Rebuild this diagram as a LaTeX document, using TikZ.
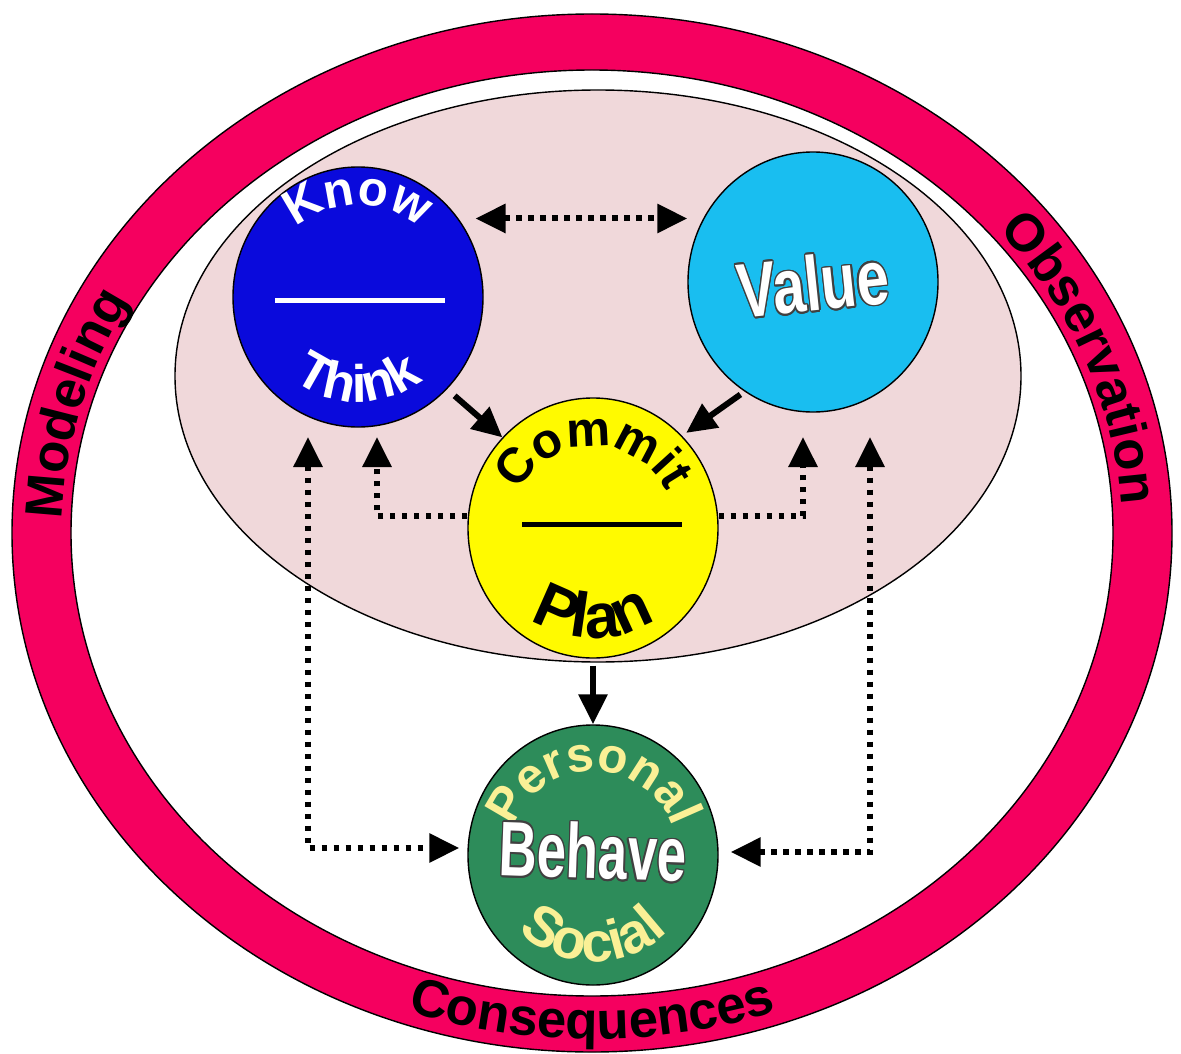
\documentclass[tikz,border=0pt]{standalone}
\usepackage{fontspec}
\setsansfont{Liberation Sans}
\usepackage[copies]{contour}
\usetikzlibrary{shapes.geometric}
\usetikzlibrary{arrows.meta}
\usetikzlibrary{decorations.text}

\definecolor{ringred}{RGB}{245,0,95}
\definecolor{hazepink}{RGB}{240,216,218}
\definecolor{knowblue}{RGB}{10,10,220}
\definecolor{valuecyan}{RGB}{25,190,240}
\definecolor{commityellow}{RGB}{255,250,0}
\definecolor{behavegreen}{RGB}{45,140,90}
\definecolor{paleyellow}{RGB}{250,240,150}

\newcommand{\ringfont}{\sffamily\bfseries\fontsize{15}{15}\selectfont}
\newcommand{\circfont}{\sffamily\bfseries\fontsize{14}{14}\selectfont}
\newcommand{\thinkfont}{\sffamily\bfseries\fontsize{15}{15}\selectfont}
\newcommand{\commitfont}{\sffamily\bfseries\fontsize{14}{14}\selectfont}
\newcommand{\planfont}{\sffamily\bfseries\fontsize{18}{18}\selectfont}
\newcommand{\socialfont}{\sffamily\bfseries\fontsize{16}{16}\selectfont}
\newcommand{\bigfont}{\sffamily\bfseries\fontsize{22}{22}\selectfont}
\contourlength{0.5pt}

\begin{document}
\begin{tikzpicture}[
    bubble/.style={ellipse, draw=black, thin, minimum width=25mm, minimum height=26mm, inner sep=0pt},
    dotline/.style={line width=0.6mm, dash pattern=on 0.55mm off 0.65mm},
    solidarrow/.style={line width=0.6mm, ->},
    arctext/.style={decorate, decoration={text along path, text align=center, text color=#1}},
    >={Triangle[length=3mm, width=2.8mm]},
]
    \useasboundingbox (0,0) rectangle (11.81,-10.54);
    \fill[white] (0,0) rectangle (11.81,-10.54);

    % Outer ring
    \coordinate (ringc) at (5.92,-5.33);
    \filldraw[fill=ringred, draw=black, thin, even odd rule] (ringc) ellipse [x radius=5.80, y radius=5.19] (ringc) ellipse [x radius=5.21, y radius=4.63];
    \path[arctext=black, decoration={text={|\ringfont|Modeling}}] (ringc) ++(201:5.30 and 4.72) arc[start angle=201, end angle=129, x radius=5.30, y radius=4.72];
    \path[arctext=black, decoration={text={|\ringfont|Observation}}] (ringc) ++(58:5.30 and 4.72) arc[start angle=58, end angle=-16, x radius=5.30, y radius=4.72];
    \path[arctext=black, decoration={text={|\ringfont|Consequences}}] (ringc) ++(225:5.67 and 5.06) arc[start angle=225, end angle=315, x radius=5.67, y radius=5.06];

    % Inner ellipse
    \filldraw[fill=hazepink, draw=black, thin] (5.98,-3.76) ellipse [x radius=4.23, y radius=2.86];

    % Bubbles
    \node[bubble, fill=knowblue] (know) at (3.58,-2.97) {};
    \node[bubble, fill=valuecyan] (value) at (8.13,-2.82) {};
    \node[bubble, fill=commityellow] (commit) at (5.93,-5.28) {};
    \node[bubble, fill=behavegreen] (behave) at (5.93,-8.55) {};

    % Know / Think
    \path[arctext=white, decoration={text={|\circfont|Know}}] (know.center) ++(160:0.92) arc[start angle=160, end angle=20, radius=0.92];
    \path[arctext=white, decoration={text={|\thinkfont|Think}}] (know.center) ++(200:1.05) arc[start angle=200, end angle=340, radius=1.05];
    \draw[white, line width=0.5mm] ([xshift=-8.3mm, yshift=-0.3mm]know.center) -- ([xshift=8.7mm, yshift=-0.3mm]know.center);

    % Value
    \node[text=white, rotate=6] (value_text) at ([yshift=-0.2mm]value.center) {\scalebox{0.75}[1]{\bigfont\contour{black!75}{Value}}};

    % Commit / Plan
    \path[arctext=black, decoration={text={|\commitfont|Commit}}] (commit.center) ++(170:0.82) arc[start angle=170, end angle=10, radius=0.82];
    \path[arctext=black, decoration={text={|\planfont|Plan}}] (commit.center) ++(215:1.10) arc[start angle=215, end angle=325, radius=1.10];
    \draw[black, line width=0.5mm] ([xshift=-7.1mm, yshift=0.4mm]commit.center) -- ([xshift=8.9mm, yshift=0.4mm]commit.center);

    % Personal / Behave / Social
    \path[arctext=paleyellow, decoration={text={|\circfont|Personal}}] (behave.center) ++(170:0.84) arc[start angle=170, end angle=10, radius=0.84];
    \path[arctext=paleyellow, decoration={text={|\socialfont|Social}}] (behave.center) ++(210:1.07) arc[start angle=210, end angle=330, radius=1.07];
    \node[text=white, rotate=-2] (behave_text) at ([yshift=0.3mm]behave.center) {\scalebox{0.68}[1]{\bigfont\contour{black!75}{Behave}}};

    % Solid arrows
    \draw[solidarrow, shorten <=1mm] (know.-46) -- (commit.135);
    \draw[solidarrow, shorten <=0.5mm, shorten >=0.5mm] (value.238) -- (commit.46);
    \draw[solidarrow, shorten <=0.7mm] (commit.south) -- (behave.north);

    % Dotted arrows
    \coordinate (know_tip_a) at (3.08,-4.37);
    \coordinate (know_tip_b) at (3.77,-4.37);
    \coordinate (value_tip_a) at (8.03,-4.37);
    \coordinate (value_tip_b) at (8.70,-4.37);
    \draw[dotline, <->, shorten <=1.7mm] (know.38) -- (know.38 -| value.west);
    \draw[dotline, ->] ([yshift=1.2mm]commit.west) -| (know_tip_b);
    \draw[dotline, ->] ([yshift=1.2mm]commit.east) -| (value_tip_a);
    \draw[dotline, <->, shorten >=0.8mm] (know_tip_a) |- ([yshift=0.7mm]behave.west);
    \draw[dotline, <->, shorten >=1.2mm] (value_tip_b) |- ([yshift=0.3mm]behave.east);
\end{tikzpicture}
\end{document}
